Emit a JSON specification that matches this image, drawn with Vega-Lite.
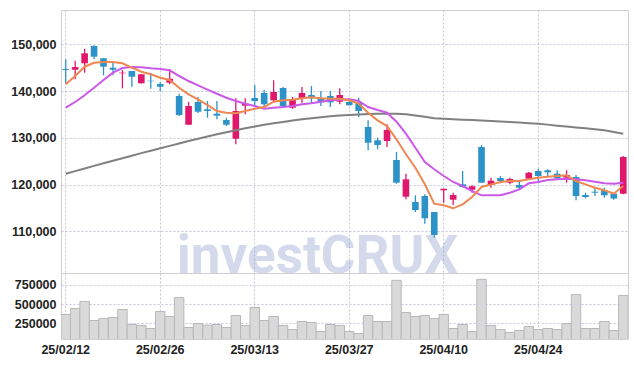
{
  "$schema": "https://vega.github.io/schema/vega-lite/v6.json",
  "padding": {"left": 5, "top": 9, "right": 8, "bottom": 0},
  "background": "white",
  "spacing": 0,
  "bounds": "flush",
  "config": {
    "concat": {"spacing": 0},
    "view": {"stroke": "#d0d0d0", "strokeWidth": 1},
    "axis": {
      "labelFont": "Liberation Sans",
      "labelFontSize": 12.5,
      "labelFontWeight": "bold",
      "labelColor": "#222222",
      "gridColor": "#c3c7dc",
      "gridDash": [2, 2],
      "gridWidth": 1,
      "domain": false,
      "ticks": false
    },
    "axisY": {"minExtent": 55, "maxExtent": 55, "labelPadding": 5}
  },
  "datasets": {
    "px": [
      {"d": "25/02/12", "o": 144700, "h": 146800, "l": 141700, "c": 144500, "v": 366000, "m5": 141440, "m20": 136440, "m60": 122320},
      {"d": "25/02/13", "o": 144570, "h": 146500, "l": 142500, "c": 145140, "v": 444000, "m5": 143220, "m20": 137660, "m60": 122880},
      {"d": "25/02/14", "o": 145940, "h": 149060, "l": 143930, "c": 148080, "v": 535000, "m5": 145210, "m20": 139090, "m60": 123440},
      {"d": "25/02/17", "o": 149640, "h": 149790, "l": 146800, "c": 147350, "v": 288000, "m5": 146060, "m20": 140720, "m60": 124000},
      {"d": "25/02/18", "o": 147010, "h": 147070, "l": 143370, "c": 145210, "v": 314000, "m5": 146210, "m20": 142360, "m60": 124550},
      {"d": "25/02/19", "o": 145000, "h": 146060, "l": 143370, "c": 144570, "v": 327000, "m5": 146210, "m20": 143930, "m60": 125100},
      {"d": "25/02/20", "o": 143800, "h": 144500, "l": 140590, "c": 143930, "v": 431000, "m5": 145940, "m20": 144930, "m60": 125640},
      {"d": "25/02/21", "o": 144290, "h": 144290, "l": 140930, "c": 143070, "v": 236000, "m5": 145000, "m20": 145140, "m60": 126180},
      {"d": "25/02/24", "o": 141660, "h": 143650, "l": 141600, "c": 143580, "v": 223000, "m5": 144140, "m20": 145080, "m60": 126720},
      {"d": "25/02/25", "o": 142200, "h": 143930, "l": 140500, "c": 142100, "v": 184000, "m5": 143580, "m20": 144870, "m60": 127250},
      {"d": "25/02/26", "o": 141500, "h": 141940, "l": 140010, "c": 140930, "v": 405000, "m5": 142860, "m20": 144720, "m60": 127770},
      {"d": "25/02/27", "o": 141790, "h": 144650, "l": 141440, "c": 142640, "v": 340000, "m5": 142360, "m20": 144440, "m60": 128280},
      {"d": "25/02/28", "o": 138940, "h": 139430, "l": 134660, "c": 134880, "v": 587000, "m5": 140720, "m20": 143220, "m60": 128790},
      {"d": "25/03/04", "o": 132800, "h": 137660, "l": 132800, "c": 136800, "v": 197000, "m5": 139300, "m20": 142150, "m60": 129300},
      {"d": "25/03/05", "o": 137660, "h": 138730, "l": 135300, "c": 135580, "v": 249000, "m5": 138240, "m20": 141230, "m60": 129800},
      {"d": "25/03/06", "o": 136100, "h": 137870, "l": 134300, "c": 135730, "v": 227000, "m5": 137000, "m20": 140300, "m60": 130280},
      {"d": "25/03/07", "o": 135160, "h": 137870, "l": 133960, "c": 134730, "v": 236000, "m5": 135730, "m20": 139430, "m60": 130740},
      {"d": "25/03/10", "o": 133800, "h": 134300, "l": 132520, "c": 132800, "v": 197000, "m5": 135370, "m20": 138580, "m60": 131180},
      {"d": "25/03/11", "o": 129800, "h": 138450, "l": 128610, "c": 135730, "v": 353000, "m5": 135240, "m20": 137870, "m60": 131610},
      {"d": "25/03/12", "o": 136870, "h": 138450, "l": 135030, "c": 137300, "v": 223000, "m5": 135730, "m20": 137300, "m60": 132030},
      {"d": "25/03/13", "o": 138510, "h": 141300, "l": 136800, "c": 137870, "v": 457000, "m5": 136230, "m20": 136800, "m60": 132440},
      {"d": "25/03/14", "o": 139580, "h": 140290, "l": 136740, "c": 137170, "v": 288000, "m5": 136590, "m20": 136230, "m60": 132780},
      {"d": "25/03/17", "o": 138020, "h": 142300, "l": 137510, "c": 139800, "v": 340000, "m5": 137720, "m20": 136440, "m60": 133100},
      {"d": "25/03/18", "o": 140650, "h": 140870, "l": 136590, "c": 136800, "v": 223000, "m5": 138020, "m20": 136590, "m60": 133400},
      {"d": "25/03/19", "o": 136440, "h": 138730, "l": 136220, "c": 138090, "v": 171000, "m5": 138150, "m20": 136800, "m60": 133690},
      {"d": "25/03/20", "o": 138510, "h": 140870, "l": 137510, "c": 139580, "v": 275000, "m5": 138450, "m20": 137170, "m60": 133960},
      {"d": "25/03/21", "o": 139150, "h": 141080, "l": 137510, "c": 138450, "v": 262000, "m5": 138660, "m20": 137380, "m60": 134190},
      {"d": "25/03/24", "o": 138450, "h": 140010, "l": 136800, "c": 137590, "v": 145000, "m5": 138450, "m20": 137720, "m60": 134400},
      {"d": "25/03/25", "o": 138940, "h": 140010, "l": 136590, "c": 137590, "v": 236000, "m5": 138360, "m20": 138020, "m60": 134590},
      {"d": "25/03/26", "o": 137720, "h": 140590, "l": 137170, "c": 139150, "v": 223000, "m5": 138360, "m20": 138150, "m60": 134750},
      {"d": "25/03/27", "o": 137660, "h": 138450, "l": 136950, "c": 136950, "v": 145000, "m5": 138020, "m20": 138270, "m60": 134880},
      {"d": "25/03/28", "o": 137440, "h": 138580, "l": 134450, "c": 135730, "v": 118000, "m5": 137300, "m20": 137870, "m60": 134990},
      {"d": "25/03/31", "o": 132310, "h": 133740, "l": 127330, "c": 128950, "v": 353000, "m5": 135370, "m20": 136590, "m60": 135080},
      {"d": "25/04/01", "o": 129470, "h": 130020, "l": 127540, "c": 128460, "v": 275000, "m5": 133740, "m20": 135950, "m60": 135140},
      {"d": "25/04/02", "o": 129320, "h": 132890, "l": 128030, "c": 131670, "v": 275000, "m5": 132520, "m20": 135370, "m60": 135170},
      {"d": "25/04/03", "o": 125250, "h": 126960, "l": 120180, "c": 120400, "v": 809000, "m5": 129680, "m20": 133440, "m60": 135170},
      {"d": "25/04/04", "o": 117400, "h": 122320, "l": 116850, "c": 121120, "v": 392000, "m5": 126470, "m20": 130880, "m60": 135050},
      {"d": "25/04/07", "o": 116270, "h": 117700, "l": 114130, "c": 114560, "v": 340000, "m5": 123600, "m20": 127880, "m60": 134770},
      {"d": "25/04/08", "o": 117550, "h": 117910, "l": 111630, "c": 112780, "v": 353000, "m5": 120050, "m20": 124820, "m60": 134480},
      {"d": "25/04/09", "o": 114130, "h": 114130, "l": 108630, "c": 109210, "v": 314000, "m5": 115910, "m20": 123260, "m60": 134200},
      {"d": "25/04/10", "o": 118770, "h": 119110, "l": 116120, "c": 119110, "v": 366000, "m5": 115560, "m20": 121830, "m60": 134080},
      {"d": "25/04/11", "o": 116760, "h": 118260, "l": 115630, "c": 117770, "v": 184000, "m5": 114920, "m20": 120550, "m60": 133980},
      {"d": "25/04/14", "o": 120050, "h": 122890, "l": 119330, "c": 119480, "v": 236000, "m5": 115770, "m20": 119690, "m60": 133880},
      {"d": "25/04/15", "o": 118900, "h": 119840, "l": 118260, "c": 119630, "v": 145000, "m5": 117340, "m20": 118620, "m60": 133790},
      {"d": "25/04/16", "o": 128030, "h": 128400, "l": 120400, "c": 120400, "v": 822000, "m5": 119480, "m20": 117700, "m60": 133700},
      {"d": "25/04/17", "o": 119910, "h": 121470, "l": 119330, "c": 120830, "v": 223000, "m5": 120000, "m20": 117700, "m60": 133600},
      {"d": "25/04/18", "o": 121400, "h": 121830, "l": 120270, "c": 120760, "v": 171000, "m5": 120550, "m20": 117700, "m60": 133490},
      {"d": "25/04/21", "o": 120400, "h": 121470, "l": 120050, "c": 121190, "v": 132000, "m5": 120760, "m20": 118260, "m60": 133380},
      {"d": "25/04/22", "o": 119910, "h": 121040, "l": 118980, "c": 119330, "v": 158000, "m5": 120760, "m20": 118980, "m60": 133260},
      {"d": "25/04/23", "o": 121250, "h": 122680, "l": 120970, "c": 122540, "v": 210000, "m5": 121120, "m20": 120270, "m60": 133140},
      {"d": "25/04/24", "o": 122890, "h": 123390, "l": 120760, "c": 121830, "v": 171000, "m5": 121470, "m20": 120550, "m60": 133020},
      {"d": "25/04/25", "o": 123050, "h": 123260, "l": 121680, "c": 122620, "v": 184000, "m5": 121680, "m20": 120970, "m60": 132820},
      {"d": "25/04/28", "o": 122320, "h": 123050, "l": 120970, "c": 121340, "v": 171000, "m5": 121830, "m20": 121120, "m60": 132600},
      {"d": "25/04/29", "o": 121470, "h": 123050, "l": 120400, "c": 122040, "v": 249000, "m5": 121980, "m20": 121250, "m60": 132420},
      {"d": "25/04/30", "o": 121610, "h": 122040, "l": 116630, "c": 117550, "v": 626000, "m5": 120760, "m20": 121120, "m60": 132230},
      {"d": "25/05/02", "o": 117770, "h": 118260, "l": 117060, "c": 117340, "v": 184000, "m5": 120050, "m20": 120910, "m60": 132050},
      {"d": "25/05/07", "o": 118470, "h": 119480, "l": 117550, "c": 118260, "v": 184000, "m5": 119330, "m20": 120610, "m60": 131830},
      {"d": "25/05/08", "o": 118770, "h": 119330, "l": 117190, "c": 117700, "v": 275000, "m5": 118770, "m20": 120270, "m60": 131600},
      {"d": "25/05/09", "o": 118040, "h": 118260, "l": 116770, "c": 117000, "v": 158000, "m5": 118040, "m20": 120180, "m60": 131250},
      {"d": "25/05/12", "o": 118040, "h": 126100, "l": 117900, "c": 125890, "v": 613000, "m5": 119690, "m20": 120400, "m60": 130850}
    ],
    "wm": [{"t": "investCRUX", "d": "25/03/21", "p": 101080}]
  },
  "vconcat": [
    {
      "width": 567,
      "height": 263,
      "encoding": {
        "x": {
          "field": "d",
          "type": "ordinal",
          "title": null,
          "scale": {"paddingInner": 0, "paddingOuter": 0},
          "axis": {"values": ["25/02/12", "25/02/26", "25/03/13", "25/03/27", "25/04/10", "25/04/24"], "labels": false, "grid": true, "labelPadding": 0, "minExtent": 0, "maxExtent": 0}
        }
      },
      "layer": [
        {
          "data": {"name": "px"},
          "mark": {"type": "rule", "strokeWidth": 1.3},
          "encoding": {
            "y": {"field": "l", "type": "quantitative", "title": null, "scale": {"domain": [101080, 157340], "nice": false, "zero": false},
                  "axis": {"values": [110000, 120000, 130000, 140000, 150000], "format": ",d", "grid": true}},
            "y2": {"field": "h"},
            "color": {"condition": {"test": "datum.c > datum.o", "value": "#e0186c"}, "value": "#2b93c8"}
          }
        },
        {
          "data": {"name": "px"},
          "mark": {"type": "bar", "width": {"band": 0.7}},
          "encoding": {
            "y": {"field": "o", "type": "quantitative", "title": null, "axis": {"values": [110000, 120000, 130000, 140000, 150000], "format": ",d", "grid": true}},
            "y2": {"field": "c"},
            "color": {"condition": {"test": "datum.c > datum.o", "value": "#e0186c"}, "value": "#2b93c8"}
          }
        },
        {
          "data": {"name": "px"},
          "mark": {"type": "line", "color": "#808080", "strokeWidth": 2},
          "encoding": {"y": {"field": "m60", "type": "quantitative", "title": null, "axis": {"values": [110000, 120000, 130000, 140000, 150000], "format": ",d", "grid": true}}}
        },
        {
          "data": {"name": "px"},
          "mark": {"type": "line", "color": "#cc58ea", "strokeWidth": 2},
          "encoding": {"y": {"field": "m20", "type": "quantitative", "title": null, "axis": {"values": [110000, 120000, 130000, 140000, 150000], "format": ",d", "grid": true}}}
        },
        {
          "data": {"name": "px"},
          "mark": {"type": "line", "color": "#ee8752", "strokeWidth": 2},
          "encoding": {"y": {"field": "m5", "type": "quantitative", "title": null, "axis": {"values": [110000, 120000, 130000, 140000, 150000], "format": ",d", "grid": true}}}
        },
        {
          "data": {"name": "wm"},
          "mark": {"type": "text", "font": "Roboto", "fontSize": 53, "fontWeight": "bold", "align": "center", "baseline": "alphabetic", "dx": 6, "color": "#8a9acb", "opacity": 0.36},
          "encoding": {
            "y": {"field": "p", "type": "quantitative", "title": null, "axis": {"values": [110000, 120000, 130000, 140000, 150000], "format": ",d", "grid": true}},
            "text": {"field": "t"}
          }
        }
      ]
    },
    {
      "width": 567,
      "height": 66,
      "data": {"name": "px"},
      "mark": {"type": "bar", "width": {"band": 1}, "fill": "#d9d9d9", "stroke": "#b8b8b8", "strokeWidth": 1, "clip": true},
      "encoding": {
        "x": {
          "field": "d",
          "type": "ordinal",
          "title": null,
          "scale": {"paddingInner": 0, "paddingOuter": 0},
          "axis": {"values": ["25/02/12", "25/02/26", "25/03/13", "25/03/27", "25/04/10", "25/04/24"], "grid": true, "labelPadding": 4, "labelAngle": 0}
        },
        "y": {
          "field": "v",
          "type": "quantitative",
          "title": null,
          "scale": {"domain": [48000, 904000], "nice": false, "zero": false},
          "axis": {"values": [250000, 500000, 750000], "format": "d", "grid": true}
        }
      }
    }
  ]
}
